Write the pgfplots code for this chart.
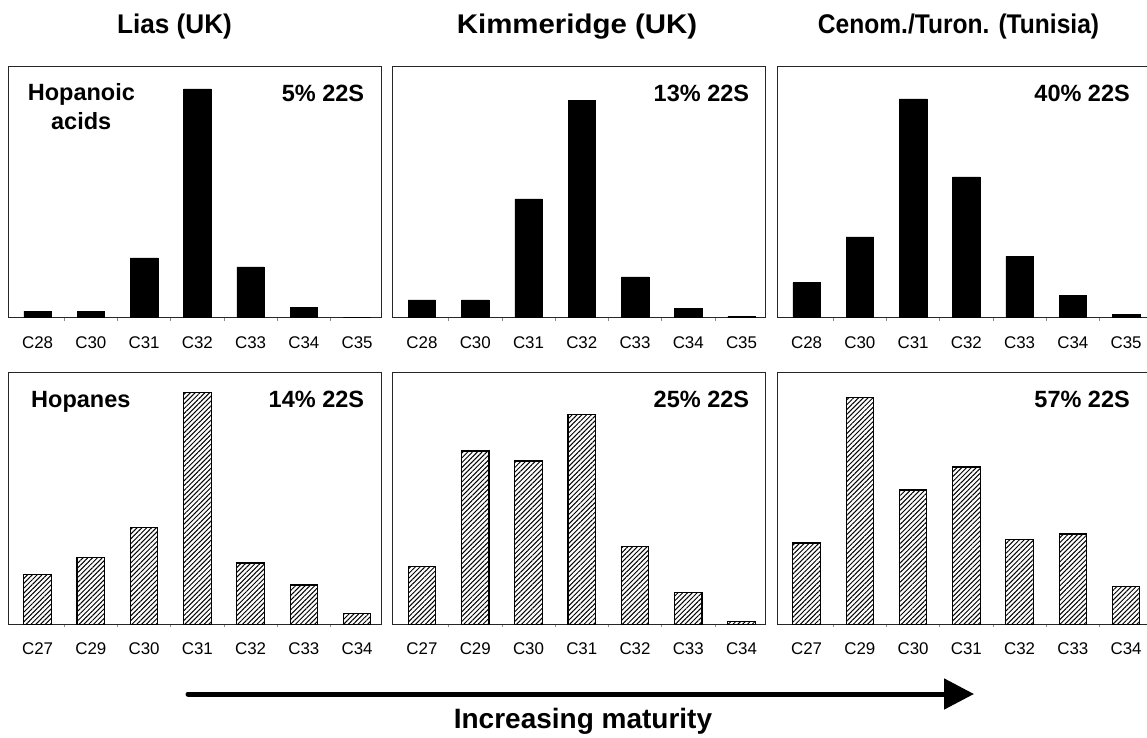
\documentclass[border=0pt]{standalone}
\usepackage{fontspec}
\setmainfont{Liberation Sans}
\usepackage{pgfplots}
\usepackage{pgfplotstable}
\pgfplotsset{compat=1.18}
\usetikzlibrary{patterns.meta,arrows.meta}

% heights in pixels of the reference (axis box = 251.5 px)
\pgfplotstableread{
x y
0 6.7
1 6.7
2 59.7
3 228.7
4 50.7
5 10.4
6 0
}\acidsLias
\pgfplotstableread{
x y
0 17.7
1 17.7
2 118.7
3 217
4 40.7
5 9.4
6 1.7
}\acidsKim
\pgfplotstableread{
x y
0 35
1 80.7
2 218.7
3 140.7
4 61
5 22
6 3.4
}\acidsCen
\pgfplotstableread{
x y
0 49.6
1 67
2 97
3 231.6
4 61.3
5 39.3
6 11
}\hopLias
\pgfplotstableread{
x y
0 58
1 173.3
2 163.3
3 210
4 78
5 32
6 2.6
}\hopKim
\pgfplotstableread{
x y
0 81.3
1 227
2 134.3
3 157.3
4 85
5 90.3
6 38
}\hopCen

\pgfplotsset{
  panel/.style={
    scale only axis, width=372.8pt, height=251.5pt,
    xmin=-0.55, xmax=6.45, ymin=0, ymax=251.5,
    ytick=\empty, xtick={0,...,6},
    minor xtick={0.5,1.5,...,5.5},
    major tick length=0pt, minor tick length=3pt,
    tick align=outside, xtick pos=lower,
    minor tick style={black!45, line width=0.6pt},
    axis line style={line width=1.1pt, black!85},
    xticklabel style={font=\fontsize{16.9}{20}\selectfont, anchor=base, yshift=-30.5pt},
    ybar, bar width=27.5pt,
    clip=false,
  },
  acids/.style={panel, xticklabels={C28,C30,C31,C32,C33,C34,C35}},
  hops/.style={panel, xticklabels={C27,C29,C30,C31,C32,C33,C34}},
  solidbar/.style={fill=black, draw=black, line width=0.5pt},
  hatchbar/.style={draw=black, line width=1.2pt,
    pattern={Lines[angle=45, distance=3.4pt, line width=1pt]}, pattern color=black},
}

\begin{document}
\begin{tikzpicture}[x=1pt,y=1pt]
\path[use as bounding box] (0,0) rectangle (1147,737);
\clip (0,0) rectangle (1147,737);

% top row (bottom at img y 317.7 -> 419.3)
\begin{axis}[acids, at={(8.3pt,419.3pt)}, anchor=south west]
  \addplot[solidbar] table[x=x,y=y] {\acidsLias};
\end{axis}
\begin{axis}[acids, at={(392.7pt,419.3pt)}, anchor=south west]
  \addplot[solidbar] table[x=x,y=y] {\acidsKim};
\end{axis}
\begin{axis}[acids, at={(777.3pt,419.3pt)}, anchor=south west]
  \addplot[solidbar] table[x=x,y=y] {\acidsCen};
\end{axis}

% bottom row (bottom at img y 624.3 -> 112.7)
\begin{axis}[hops, at={(8.3pt,112.7pt)}, anchor=south west]
  \addplot[hatchbar] table[x=x,y=y] {\hopLias};
\end{axis}
\begin{axis}[hops, at={(392.7pt,112.7pt)}, anchor=south west]
  \addplot[hatchbar] table[x=x,y=y] {\hopKim};
\end{axis}
\begin{axis}[hops, at={(777.3pt,112.7pt)}, anchor=south west]
  \addplot[hatchbar] table[x=x,y=y] {\hopCen};
\end{axis}

% titles
\begin{scope}[every node/.style={font=\bfseries\fontsize{27}{32}\selectfont, inner sep=0pt, anchor=base}]
  \node[xscale=0.97] at (174.5,703) {Lias (UK)};
  \node[xscale=1.09] at (577,703) {Kimmeridge (UK)};
  \node[xscale=0.91] at (958.5,703) {Cenom./Turon. (Tunisia)};
\end{scope}

% panel labels
\begin{scope}[every node/.style={font=\bfseries\fontsize{23.5}{28}\selectfont, inner sep=0pt}]
  \node[anchor=base east] at (364.3,635.3) {5\% 22S};
  \node[anchor=base east] at (749.3,635.3) {13\% 22S};
  \node[anchor=base east] at (1130,635.3) {40\% 22S};
  \node[anchor=base east] at (364.3,329.3) {14\% 22S};
  \node[anchor=base east] at (749.3,329.3) {25\% 22S};
  \node[anchor=base east] at (1130,329.3) {57\% 22S};
  \node[anchor=base] at (81.4,636) {Hopanoic};
  \node[anchor=base] at (81.2,607) {acids};
  \node[anchor=base west] at (31,329.3) {Hopanes};
\end{scope}

% arrow
\draw[line width=5pt, line cap=round, -{Triangle[length=30pt, width=30pt]}] (188,43) -- (974,43);
\node[font=\bfseries\fontsize{28}{33}\selectfont, inner sep=0pt, anchor=base] at (583,9) {Increasing maturity};
\end{tikzpicture}
\end{document}
